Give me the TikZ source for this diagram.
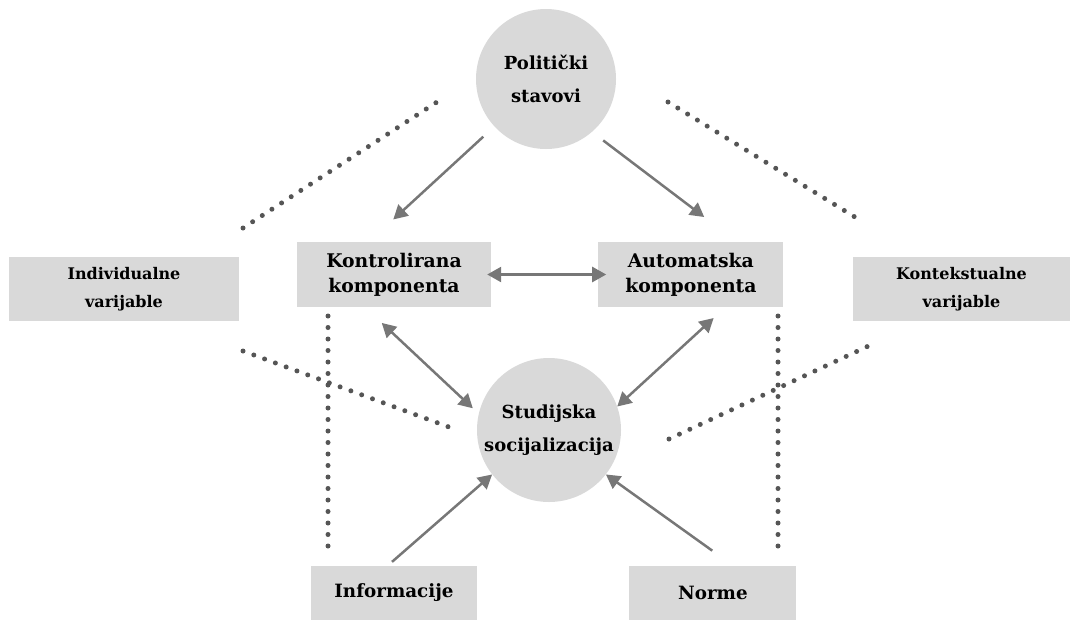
\documentclass[tikz,border=0pt]{standalone}
\usepackage{fontspec}
\setmainfont{DejaVu Serif}
\usetikzlibrary{positioning}
\usetikzlibrary{arrows.meta}
\definecolor{boxgray}{HTML}{D9D9D9}
\definecolor{arrowgray}{HTML}{777777}
\definecolor{dotgray}{HTML}{555555}

\begin{document}
\begin{tikzpicture}[x=1pt, y=-1pt,
	bubble/.style={circle, fill=boxgray, inner sep=0pt, align=center, font=\bfseries\fontsize{18}{33}\selectfont},
	innerbox/.style={rectangle, fill=boxgray, inner sep=0pt, minimum height=65pt, align=center, font=\bfseries\fontsize{18.8}{25}\selectfont},
	outerbox/.style={rectangle, fill=boxgray, inner sep=0pt, minimum height=64pt, align=center, font=\bfseries\fontsize{16}{28}\selectfont},
	flow/.style={line width=2.5pt, arrowgray, -{Triangle[length=14pt,width=15pt]}},
	bothflow/.style={flow, {Triangle[length=14pt,width=15pt]}-{Triangle[length=14pt,width=15pt]}},
	divider/.style={line width=5pt, dotgray, line cap=round, dash pattern=on 0pt off 11.5pt}]
	
	\useasboundingbox (0,0) rectangle (1073,619);
	
	\node [bubble, minimum size=140pt] at (546,79) (POL) {Politički\\stavovi};
	\node [bubble, minimum size=144pt] at (549,430) (STU) {Studijska\\socijalizacija};
	
	\node [innerbox, minimum width=194pt] at (394,274.5) (KON) {Kontrolirana\\komponenta};
	\node [innerbox, minimum width=185pt, right=107pt of KON] (AUT) {Automatska\\komponenta};
	
	\node [outerbox, minimum width=230pt] at (124,289) (IND) {Individualne\\varijable};
	\node [outerbox, minimum width=217pt] at (961.5,289) (KTX) {Kontekstualne\\varijable};
	
	\node [innerbox, minimum width=166pt, minimum height=54pt, font=\bfseries\fontsize{18.3}{25}\selectfont] at (394,593) (INF) {Informacije};
	\node [innerbox, minimum width=167pt, minimum height=54pt, font=\bfseries\fontsize{18.3}{25}\selectfont, right=152pt of INF] (NOR) {Norme};
	
	\draw [divider] (243,228) -- (437,102);
	\draw [divider] (668,102) -- (863,222);
	\draw [divider] (243,351) -- (457,430);
	\draw [divider] (669,439) -- (877,342);
	\draw [divider] (328,316) -- (328,546);
	\draw [divider] (778,316) -- (778,546);
	
	\draw [flow, shorten <=15pt, shorten >=33pt] (POL) -- ([xshift=-25pt]KON.north);
	\draw [flow, shorten <=14pt, shorten >=41pt] (POL.311) -- ([xshift=46pt]AUT.north);
	\draw [bothflow, shorten <=-4pt, shorten >=-8pt] (KON.east) -- (AUT.west);
	
	\draw [bothflow, shorten <=23pt, shorten >=8pt] ([xshift=-29pt]KON.south) -- (STU.167);
	\draw [bothflow, shorten <=16pt] ([xshift=34.5pt]AUT.south) -- (STU.19);
	
	\draw [flow, shorten <=6pt] ([xshift=-6.5pt]INF.north) -- (STU.218);
	\draw [flow, shorten <=26pt] ([xshift=20.5pt]NOR.north) -- (STU.322);
	
\end{tikzpicture}
\end{document}
